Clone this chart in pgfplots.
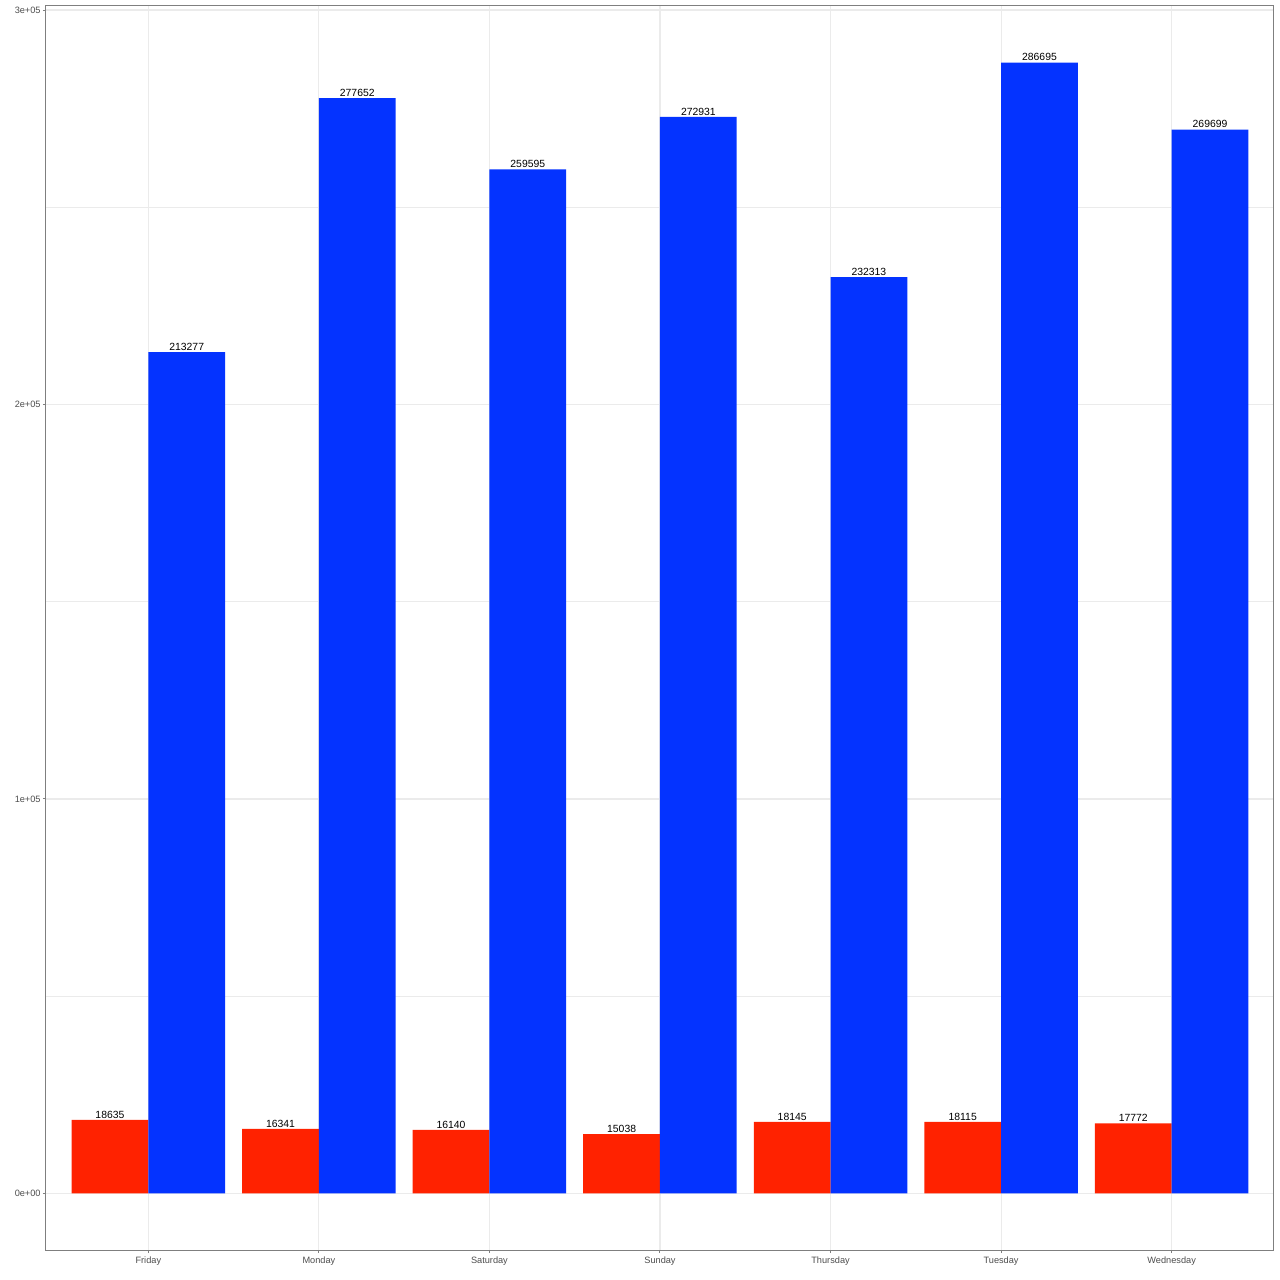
\documentclass[border=0pt]{standalone}
\usepackage{pgfplots}
\pgfplotsset{compat=1.18}
\usepackage{fontspec}
\setmainfont{Liberation Sans}
\definecolor{redbar}{RGB}{255,34,0}
\definecolor{bluebar}{RGB}{4,51,255}
\definecolor{gridc}{RGB}{235,235,235}
\definecolor{framec}{RGB}{127,127,127}
\definecolor{tickc}{RGB}{77,77,77}
\begin{document}
\begin{tikzpicture}
\useasboundingbox (-23pt,-15pt) rectangle (617pt,625pt);
\begin{axis}[
  at={(0,0)}, anchor=south west,
  scale only axis, width=614pt, height=622pt,
  xmin=0.4, xmax=7.6, ymin=-14335, ymax=301030,
  xtick={1,2,3,4,5,6,7},
  xticklabels={Friday,Monday,Saturday,Sunday,Thursday,Tuesday,Wednesday},
  ytick={0,100000,200000,300000},
  yticklabels={0e+00,1e+05,2e+05,3e+05},
  minor ytick={50000,150000,250000},
  xmajorgrids, ymajorgrids, yminorgrids,
  major grid style={draw=gridc, line width=0.55pt},
  minor grid style={draw=gridc, line width=0.3pt},
  axis line style={draw=framec, line width=0.5pt},
  tick pos=left, tick align=outside,
  major tick length=1.5pt, minor tick length=0pt,
  major tick style={draw=framec, line width=0.5pt},
  tick label style={font=\fontsize{4.6}{5}\selectfont, text=tickc},
  yticklabel style={inner sep=1pt},
  xticklabel style={inner sep=1.5pt},
  nodes near coords style={font=\fontsize{5.2}{6}\selectfont, text=black, anchor=south, inner sep=0.6pt},
]
\addplot[ybar, bar width=0.45, bar shift=0pt, fill=redbar, draw=none,
  point meta=explicit symbolic, nodes near coords] coordinates {
  (0.775,18635)[18635] (1.775,16341)[16341] (2.775,16140)[16140]
  (3.775,15038)[15038] (4.775,18145)[18145] (5.775,18115)[18115]
  (6.775,17772)[17772]};
\addplot[ybar, bar width=0.45, bar shift=0pt, fill=bluebar, draw=none,
  point meta=explicit symbolic, nodes near coords] coordinates {
  (1.225,213277)[213277] (2.225,277652)[277652] (3.225,259595)[259595]
  (4.225,272931)[272931] (5.225,232313)[232313] (6.225,286695)[286695]
  (7.225,269699)[269699]};
\end{axis}
\end{tikzpicture}
\end{document}
